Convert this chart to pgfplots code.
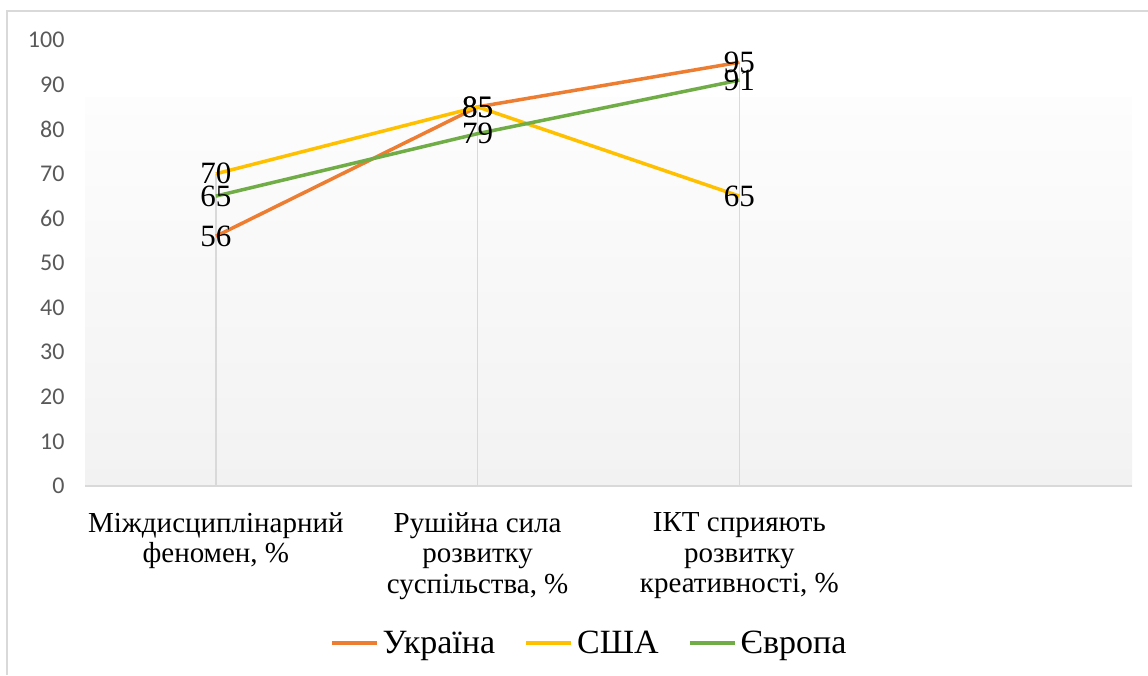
\documentclass[border=0pt]{standalone}
\usepackage{fontspec}
\setmainfont{Liberation Serif}
\newfontfamily\calibri{Carlito}
\usepackage{pgfplots}
\pgfplotsset{compat=1.18}
\definecolor{cUA}{HTML}{ED7D31}
\definecolor{cUS}{HTML}{FFC000}
\definecolor{cEU}{HTML}{70AD47}
\definecolor{gridc}{HTML}{D9D9D9}
\definecolor{tickc}{HTML}{595959}
\definecolor{bgb}{HTML}{F2F2F2}
\definecolor{bgt}{HTML}{FDFDFD}
\begin{document}
\begin{tikzpicture}[x=1pt,y=1pt]
\path[use as bounding box] (0,0) rectangle (1148,675);
\draw[gridc, line width=1.5pt] (7,0) -- (7,664) -- (1148,664);
\begin{axis}[
  at={(85pt,189pt)}, anchor=south west,
  scale only axis, width=1047pt, height=446pt,
  xmin=0.5, xmax=4.5, ymin=0, ymax=100,
  xtick={1,2,3},
  xticklabels={{Міждисциплінарний\\феномен, \%},{Рушійна сила\\розвитку\\суспільства, \%},{ІКТ сприяють\\розвитку\\креативності, \%}},
  xticklabel style={align=center, font=\fontsize{29}{30.5}\selectfont, yshift=-23pt},
  ytick={0,10,...,100},
  yticklabel style={font=\calibri\fontsize{24}{28}\selectfont, text=tickc, xshift=-17pt},
  /pgf/number format/assume math mode=true,
  axis line style={draw=none},
  tick style={draw=none},
  legend style={at={(0.481,-0.352)}, anchor=center, draw=none, fill=none,
    font=\fontsize{34}{38}\selectfont, legend columns=-1,
    nodes={inner xsep=1pt},
    /tikz/every odd column/.append style={column sep=3pt},
    /tikz/every even column/.append style={column sep=28pt}},
  legend image code/.code={\draw[#1, line width=4pt] (0pt,0pt) -- (45pt,0pt);},
  every node near coord/.append style={anchor=center, font=\fontsize{31}{34}\selectfont, text=black},
  clip=false,
]
\fill[top color=bgt, bottom color=bgb] (axis cs:0.5,87.2) rectangle (axis cs:4.5,0);
\addplot[ycomb, gridc, line width=1.5pt, forget plot, mark=none] coordinates {(1,70) (2,85) (3,95)};
\draw[gridc, line width=2pt] (axis cs:0.5,0) -- (axis cs:4.5,0);
\addplot[cUA, line width=3.5pt, mark=none, nodes near coords] coordinates {(1,56) (2,85) (3,95)};
\addlegendentry{Україна}
\addplot[cUS, line width=3.5pt, mark=none, nodes near coords] coordinates {(1,70) (2,85) (3,65)};
\addlegendentry{США}
\addplot[cEU, line width=3.5pt, mark=none, nodes near coords] coordinates {(1,65) (2,79) (3,91)};
\addlegendentry{Європа}
\end{axis}
\end{tikzpicture}
\end{document}
